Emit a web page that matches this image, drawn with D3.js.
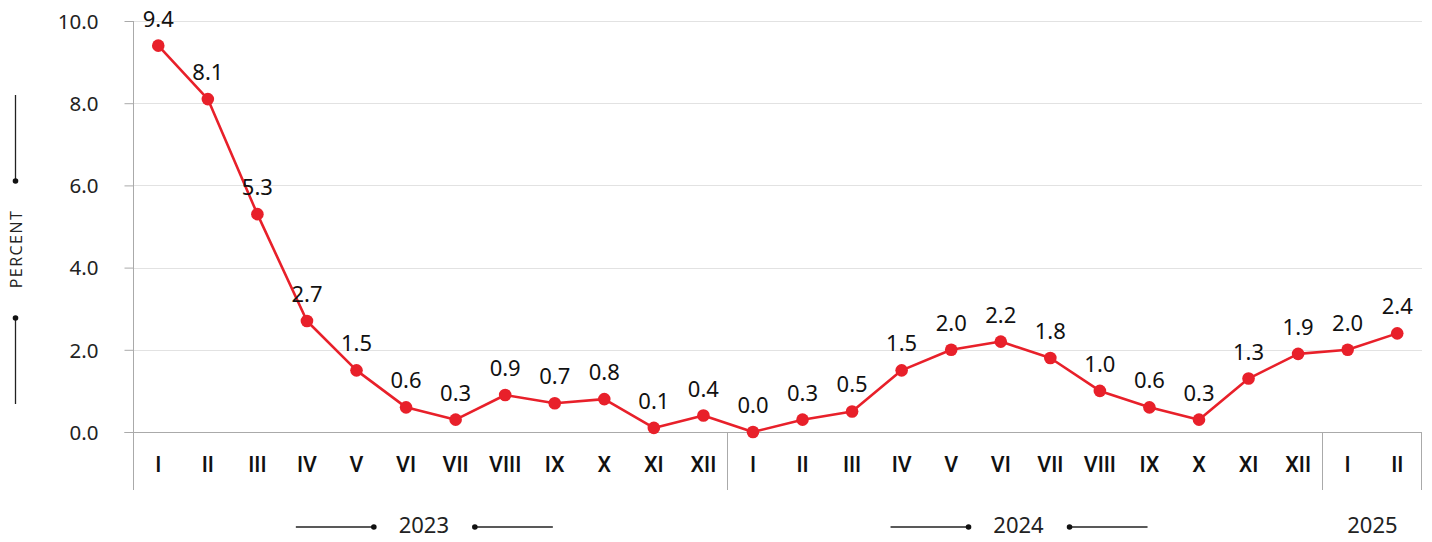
<!DOCTYPE html>
<html>
<head>
<meta charset="utf-8">
<script src="https://cdn.jsdelivr.net/npm/d3@7"></script>
<style>
  html, body { margin: 0; padding: 0; background: #fff; }
  svg { display: block; font-family: "Noto Sans", "Open Sans", sans-serif; }
</style>
</head>
<body>
<svg id="chart" width="1432" height="542"></svg>
<script>
// Monthly values (percent)
const months = ["I","II","III","IV","V","VI","VII","VIII","IX","X","XI","XII",
                "I","II","III","IV","V","VI","VII","VIII","IX","X","XI","XII",
                "I","II"];
const years = ["2023","2024","2025"];
const yearOf = [...Array(12).fill("2023"), ...Array(12).fill("2024"), "2025", "2025"];
const values = [9.4, 8.1, 5.3, 2.7, 1.5, 0.6, 0.3, 0.9, 0.7, 0.8, 0.1, 0.4,
                0.0, 0.3, 0.5, 1.5, 2.0, 2.2, 1.8, 1.0, 0.6, 0.3, 1.3, 1.9,
                2.0, 2.4];
const yTicks = [0, 2, 4, 6, 8, 10];

const svg = d3.select("#chart");
const plotLeft = 133.5, plotRight = 1422, plotTop = 21, plotBottom = 432;
const red = "#e8202a";
const numFont = "'Noto Sans', 'Open Sans', sans-serif";

const keys = d3.range(values.length);
const x = d3.scaleBand().domain(keys).range([plotLeft, plotRight]).padding(0);
const y = d3.scaleLinear().domain([0, 10]).range([plotBottom, plotTop]);

// Horizontal gridlines
svg.append("g").selectAll("line").data(yTicks.filter(d => d > 0)).join("line")
  .attr("x1", plotLeft).attr("x2", plotRight)
  .attr("y1", d => Math.round(y(d)) + 0.5).attr("y2", d => Math.round(y(d)) + 0.5)
  .attr("stroke", "#e2e2e2").attr("stroke-width", 1);

// Y axis with tick labels
const yAxis = d3.axisLeft(y).tickValues(yTicks).tickSize(9).tickPadding(26)
  .tickFormat(d3.format(".1f"));
const gy = svg.append("g").attr("transform", `translate(${plotLeft},0)`).call(yAxis);
gy.select(".domain").remove();
gy.selectAll(".tick line").attr("stroke", "#aaa");
gy.selectAll(".tick text").attr("font-size", 20.5).attr("fill", "#222")
  .attr("font-family", numFont).attr("dy", "0.36em");

// Baseline and vertical axis
svg.append("line").attr("x1", plotLeft - 9).attr("x2", plotRight)
  .attr("y1", plotBottom + 0.5).attr("y2", plotBottom + 0.5).attr("stroke", "#aaa");
svg.append("line").attr("x1", plotLeft).attr("x2", plotLeft)
  .attr("y1", plotTop).attr("y2", 490).attr("stroke", "#aaa");

// Year separators below the baseline
const yearEnds = years.map(yr => d3.max(keys.filter(i => yearOf[i] === yr)));
svg.append("g").selectAll("line").data(yearEnds).join("line")
  .attr("x1", d => Math.round(x(d) + x.bandwidth()) - 0.5)
  .attr("x2", d => Math.round(x(d) + x.bandwidth()) - 0.5)
  .attr("y1", plotBottom).attr("y2", 490)
  .attr("stroke", "#aaa");

// Month labels
svg.append("g").selectAll("text").data(keys).join("text")
  .attr("x", i => x(i) + x.bandwidth() / 2).attr("y", 472)
  .attr("text-anchor", "middle").attr("font-size", 21.5).attr("font-weight", 500)
  .attr("font-family", "Roboto, 'Liberation Sans', sans-serif").attr("fill", "#111")
  .text(i => months[i]);

// Year labels with decorative rules
years.forEach(yr => {
  const idx = keys.filter(i => yearOf[i] === yr);
  const ruled = idx.length > 2;
  const cx = (x(idx[0]) + x(idx[idx.length - 1]) + x.bandwidth()) / 2 - (ruled ? 7 : 0);
  const g = svg.append("g");
  g.append("text").attr("x", cx).attr("y", 533).attr("text-anchor", "middle")
    .attr("font-family", numFont).attr("font-size", 22).attr("fill", "#222").text(yr);
  if (ruled) {
    [[cx - 128, cx - 50, cx - 50], [cx + 51, cx + 129, cx + 51]].forEach(([a, b, dot]) => {
      g.append("line").attr("x1", a).attr("x2", b).attr("y1", 527).attr("y2", 527)
        .attr("stroke", "#222").attr("stroke-width", 1.3);
      g.append("circle").attr("cx", dot).attr("cy", 527).attr("r", 2.8).attr("fill", "#111");
    });
  }
});

// Y axis title with rules
const yt = svg.append("g");
yt.append("text").attr("transform", "translate(22,249) rotate(-90)")
  .attr("text-anchor", "middle").attr("font-size", 16).attr("letter-spacing", 1.5)
  .attr("font-family", "'Open Sans', sans-serif").attr("font-weight", 400)
  .attr("fill", "#222").text("PERCENT");
[[95, 181, 181], [318, 404, 318]].forEach(([a, b, dot]) => {
  yt.append("line").attr("x1", 15.5).attr("x2", 15.5).attr("y1", a).attr("y2", b)
    .attr("stroke", "#222").attr("stroke-width", 1.3);
  yt.append("circle").attr("cx", 15.5).attr("cy", dot).attr("r", 2.8).attr("fill", "#111");
});

// Line and markers
const cx = i => x(i) + x.bandwidth() / 2;
svg.append("path").datum(keys)
  .attr("d", d3.line().x(cx).y(i => y(values[i])))
  .attr("fill", "none").attr("stroke", red).attr("stroke-width", 2.6)
  .attr("stroke-linejoin", "round");
svg.append("g").selectAll("circle").data(keys).join("circle")
  .attr("cx", cx).attr("cy", i => y(values[i])).attr("r", 6.3).attr("fill", red);

// Value labels
svg.append("g").selectAll("text").data(keys).join("text")
  .attr("x", cx).attr("y", i => y(values[i]) - 19)
  .attr("text-anchor", "middle").attr("font-family", numFont)
  .attr("font-size", 22).attr("fill", "#111")
  .text(i => d3.format(".1f")(values[i]));
</script>
</body>
</html>
